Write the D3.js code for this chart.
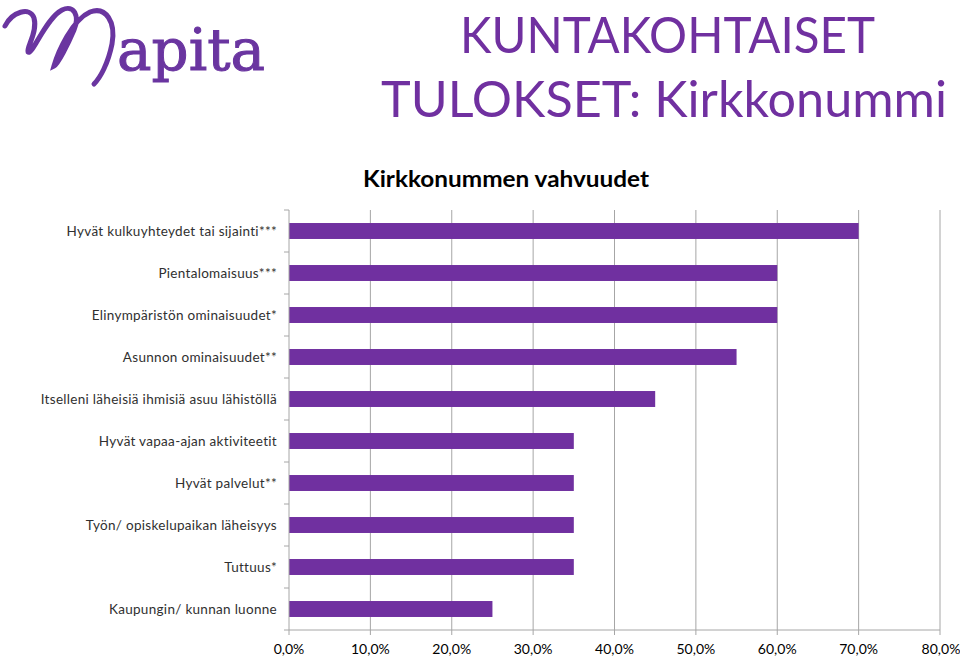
<!DOCTYPE html>
<html><head><meta charset="utf-8">
<script src="https://cdn.jsdelivr.net/npm/d3@7/dist/d3.min.js"></script>
<style>body{margin:0;background:#fff}svg{display:block}</style>
</head><body><svg id="c" width="960" height="657"></svg>
<script>
const categories = ["Hyvät kulkuyhteydet tai sijainti***","Pientalomaisuus***","Elinympäristön ominaisuudet*","Asunnon ominaisuudet**","Itselleni läheisiä ihmisiä asuu lähistöllä","Hyvät vapaa-ajan aktiviteetit","Hyvät palvelut**","Työn/ opiskelupaikan läheisyys","Tuttuus*","Kaupungin/ kunnan luonne"];
const values = [70,60,60,55,45,35,35,35,35,25];
const tickValues = [0,10,20,30,40,50,60,70,80];
const tickLabels = ["0,0%","10,0%","20,0%","30,0%","40,0%","50,0%","60,0%","70,0%","80,0%"];

const svg = d3.select("#c");
const purple = "#7030a0";
// header
svg.append("text").attr("x",460).attr("y",53)
  .attr("font-family","Lato, sans-serif").attr("font-size",51).attr("fill",purple)
  .attr("textLength",415).attr("lengthAdjust","spacingAndGlyphs").text("KUNTAKOHTAISET");
svg.append("text").attr("x",381).attr("y",117)
  .attr("font-family","Lato, sans-serif").attr("font-size",51).attr("fill",purple)
  .attr("textLength",566).attr("lengthAdjust","spacingAndGlyphs").text("TULOKSET: Kirkkonummi");
// logo
svg.append("path").attr("d","M5,26 C12,12 30,6 34,18 C38,32 26,48 28,52 C32,56 46,18 62,10 C74,4 80,16 74,30 C68,44 58,64 54,66 C58,52 72,20 90,12 C106,6 116,22 112,44 C108,64 100,78 94,84")
  .attr("fill","none").attr("stroke","#6a35a0").attr("stroke-width",5).attr("stroke-linecap","round");
svg.append("text").attr("x",117).attr("y",70).attr("font-family","DejaVu Serif, serif").attr("font-size",58)
  .attr("fill","#6a35a0").attr("stroke","#6a35a0").attr("stroke-width",1)
  .attr("textLength",148).attr("lengthAdjust","spacingAndGlyphs").text("apita");
// chart title
svg.append("text").attr("x",363).attr("y",187)
  .attr("font-family","Lato, sans-serif").attr("font-weight","700").attr("font-size",22).attr("fill","#000")
  .attr("textLength",286).attr("lengthAdjust","spacingAndGlyphs").text("Kirkkonummen vahvuudet");

const m = {l:289, r:940, t:210, b:630};
const x = d3.scaleLinear().domain([0,80]).range([m.l,m.r]);
const y = d3.scaleBand().domain(categories).range([m.t,m.b]).paddingInner(0.62).paddingOuter(0.31);
const yb = d3.scaleBand().domain(categories).range([m.t,m.b]);

// gridlines
svg.append("g").selectAll("line").data(tickValues.slice(1)).join("line")
  .attr("x1",d=>x(d)).attr("x2",d=>x(d)).attr("y1",m.t).attr("y2",m.b+5)
  .attr("stroke","#a6a6a6").attr("stroke-width",1);
// bars
svg.append("g").selectAll("rect").data(values).join("rect")
  .attr("x",x(0)).attr("y",(d,i)=>y(categories[i])).attr("width",d=>x(d)-x(0)).attr("height",y.bandwidth())
  .attr("fill",purple);
// y axis
const gy = svg.append("g");
gy.append("line").attr("x1",m.l).attr("x2",m.l).attr("y1",m.t).attr("y2",m.b).attr("stroke","#a6a6a6");
const bounds = categories.map(c=>yb(c)).concat([m.b]);
gy.selectAll("line.t").data(bounds).join("line").attr("class","t")
  .attr("x1",m.l-5).attr("x2",m.l).attr("y1",d=>d).attr("y2",d=>d).attr("stroke","#a6a6a6");
gy.selectAll("text").data(categories).join("text")
  .attr("x",m.l-12).attr("y",c=>yb(c)+yb.bandwidth()/2).attr("dy","0.35em").attr("text-anchor","end")
  .attr("font-family","Lato, sans-serif").attr("font-size",13.5).attr("letter-spacing",0.3).attr("fill","#303030").text(c=>c);
// x axis
const gx = svg.append("g");
gx.append("line").attr("x1",m.l).attr("x2",m.r).attr("y1",m.b).attr("y2",m.b).attr("stroke","#a6a6a6");
gx.append("line").attr("x1",m.l).attr("x2",m.l).attr("y1",m.b).attr("y2",m.b+5).attr("stroke","#a6a6a6");
gx.selectAll("text").data(tickValues).join("text")
  .attr("x",(d,i)=>i===tickValues.length-1?x(d)+1:x(d)).attr("y",654).attr("text-anchor","middle")
  .attr("font-family","Lato, sans-serif").attr("font-size",14).attr("fill","#000").text((d,i)=>tickLabels[i]);
</script></body></html>
